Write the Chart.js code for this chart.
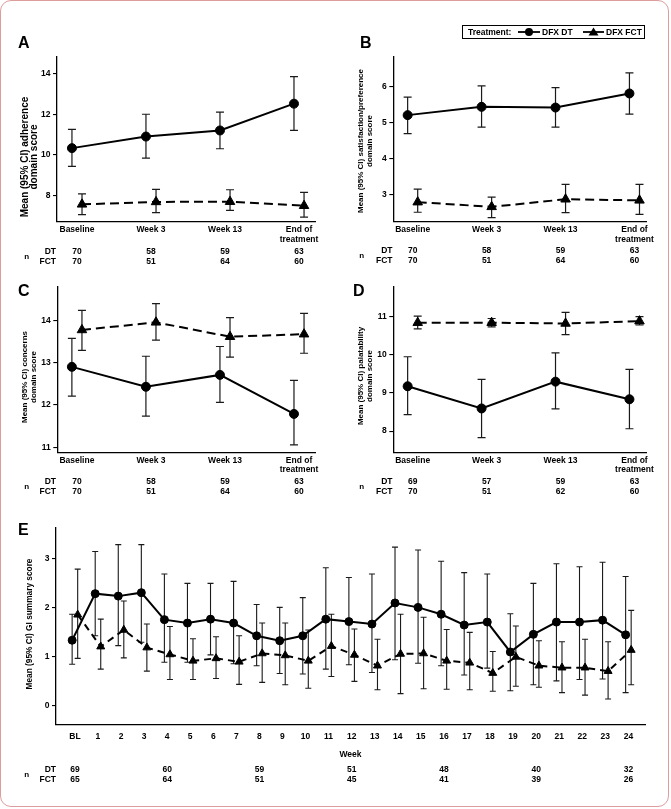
<!DOCTYPE html>
<html lang="en">
<head>
<meta charset="UTF-8">
<title>DFX DT vs DFX FCT - patient-reported outcomes</title>
<script src="https://cdn.jsdelivr.net/npm/chart.js"></script>
<style>
  body { margin: 0; background: #fff; }
  #frame { position: absolute; left: 0; top: 0; width: 667px; height: 805px;
           border: 1.5px solid #de9d9d; border-radius: 11px; }
  canvas { position: absolute; }
</style>
</head>
<body>
<div id="frame"></div>
<canvas id="pA"></canvas>
<canvas id="pB"></canvas>
<canvas id="pC"></canvas>
<canvas id="pD"></canvas>
<canvas id="pE"></canvas>

<script>
// ---- data ----
const visitLabels = ['Baseline', 'Week 3', 'Week 13', ['End of', 'treatment']];
const weekLabels = ['BL', '1', '2', '3', '4', '5', '6', '7', '8', '9', '10', '11', '12',
  '13', '14', '15', '16', '17', '18', '19', '20', '21', '22', '23', '24'];

// A - adherence
const adhDT = [10.33, 10.90, 11.20, 12.52];
const adhDTLow = [9.43, 9.84, 10.30, 11.20];
const adhDTHigh = [11.25, 12.00, 12.10, 13.85];
const adhFCT = [7.56, 7.68, 7.69, 7.49];
const adhFCTLow = [7.05, 7.15, 7.26, 6.93];
const adhFCTHigh = [8.08, 8.30, 8.28, 8.15];
const nA_DT = [70, 58, 59, 63];
const nA_FCT = [70, 51, 64, 60];

// B - satisfaction/preference
const satDT = [5.20, 5.43, 5.41, 5.80];
const satDTLow = [4.69, 4.87, 4.87, 5.23];
const satDTHigh = [5.70, 6.01, 5.96, 6.37];
const satFCT = [2.79, 2.66, 2.87, 2.84];
const satFCTLow = [2.51, 2.36, 2.50, 2.45];
const satFCTHigh = [3.15, 2.93, 3.28, 3.28];
const nB_DT = [70, 58, 59, 63];
const nB_FCT = [70, 51, 64, 60];

// C - concerns
const conDT = [12.90, 12.43, 12.71, 11.79];
const conDTLow = [12.21, 11.74, 12.06, 11.06];
const conDTHigh = [13.57, 13.15, 13.38, 12.58];
const conFCT = [13.77, 13.95, 13.61, 13.67];
const conFCTLow = [13.29, 13.53, 13.13, 13.22];
const conFCTHigh = [14.23, 14.39, 14.06, 14.16];
const nC_DT = [70, 58, 59, 63];
const nC_FCT = [70, 51, 64, 60];

// D - palatability
const palDT = [9.17, 8.59, 9.29, 8.83];
const palDTLow = [8.43, 7.83, 8.58, 8.06];
const palDTHigh = [9.94, 9.35, 10.04, 9.61];
const palFCT = [10.83, 10.83, 10.81, 10.87];
const palFCTLow = [10.67, 10.72, 10.52, 10.77];
const palFCTHigh = [11.00, 10.94, 11.10, 10.99];
const nD_DT = [69, 57, 59, 63];
const nD_FCT = [70, 51, 62, 60];

// E - GI summary score by week
const giDT = [1.34, 2.29, 2.24, 2.31, 1.76, 1.69, 1.77, 1.69, 1.43, 1.33, 1.43, 1.77, 1.72,
  1.67, 2.10, 2.01, 1.87, 1.65, 1.71, 1.10, 1.46, 1.71, 1.71, 1.75, 1.45];
const giDTLow = [0.85, 1.43, 1.23, 1.30, 0.89, 0.89, 1.04, 0.86, 0.82, 0.66, 0.65, 0.75, 0.84,
  0.68, 0.94, 0.87, 0.82, 0.63, 0.77, 0.31, 0.43, 0.51, 0.54, 0.55, 0.27];
const giDTHigh = [1.87, 3.15, 3.29, 3.29, 2.69, 2.50, 2.50, 2.54, 2.07, 2.01, 2.21, 2.82, 2.62,
  2.69, 3.24, 3.18, 2.95, 2.72, 2.69, 1.88, 2.50, 2.90, 2.84, 2.93, 2.64];
const giFCT = [1.86, 1.21, 1.55, 1.19, 1.05, 0.92, 0.97, 0.90, 1.07, 1.03, 0.92, 1.22, 1.04,
  0.82, 1.06, 1.07, 0.92, 0.88, 0.67, 1.00, 0.82, 0.78, 0.78, 0.71, 1.14];
const giFCTLow = [0.97, 0.75, 0.98, 0.71, 0.54, 0.54, 0.56, 0.44, 0.48, 0.43, 0.36, 0.60, 0.50,
  0.33, 0.25, 0.35, 0.34, 0.33, 0.30, 0.40, 0.38, 0.27, 0.22, 0.14, 0.43];
const giFCTHigh = [2.79, 1.77, 2.14, 1.67, 1.62, 1.37, 1.41, 1.43, 1.69, 1.69, 1.55, 1.87, 1.57,
  1.36, 1.87, 1.81, 1.56, 1.50, 1.11, 1.63, 1.33, 1.31, 1.36, 1.31, 1.95];
const nE_weeks = [0, 4, 8, 12, 16, 20, 24];
const nE_DT = [69, 60, 59, 51, 48, 40, 32];
const nE_FCT = [65, 64, 51, 45, 41, 39, 26];

const FONT = "'Liberation Sans', Arial, Helvetica, sans-serif";
Chart.defaults.font.family = FONT;
Chart.defaults.color = '#000';

// vertical 95% CI bars, drawn under the lines
const errorBars = {
  id: 'errorBars',
  beforeDatasetsDraw(chart) {
    const ctx = chart.ctx, ys = chart.scales.y;
    chart.data.datasets.forEach((ds, i) => {
      const meta = chart.getDatasetMeta(i);
      ctx.save();
      ctx.strokeStyle = '#1a1a1a';
      ctx.lineWidth = ds.barWidth;
      meta.data.forEach((pt, j) => {
        const top = ys.getPixelForValue(ds.hi[j]);
        const bot = ys.getPixelForValue(ds.lo[j]);
        ctx.beginPath();
        ctx.moveTo(pt.x, top); ctx.lineTo(pt.x, bot);
        ctx.moveTo(pt.x - ds.cap, top); ctx.lineTo(pt.x + ds.cap, top);
        ctx.moveTo(pt.x - ds.cap, bot); ctx.lineTo(pt.x + ds.cap, bot);
        ctx.stroke();
      });
      ctx.restore();
    });
  }
};

const panels = {};

// letters, y titles, n tables, legend
const decor = {
  id: 'decor',
  afterDraw(chart) {
    const d = panels[chart.canvas.id];
    const ctx = chart.ctx;
    ctx.save();
    ctx.translate(-d.box.left, -d.box.top);
    ctx.fillStyle = '#000';
    ctx.textBaseline = 'middle';

    ctx.font = 'bold 16px ' + FONT;
    ctx.textAlign = 'left';
    ctx.fillText(d.letter, d.letterX, d.letterY);

    ctx.font = 'bold ' + d.titleSize + 'px ' + FONT;
    ctx.textAlign = 'center';
    d.title.forEach((line, k) => {
      ctx.save();
      ctx.translate(d.titleX + k * d.titleDx, d.titleY);
      ctx.rotate(-Math.PI / 2);
      ctx.fillText(line, 0, 0);
      ctx.restore();
    });

    const xs = chart.scales.x;
    ctx.font = 'bold 8.5px ' + FONT;
    ctx.textAlign = 'right';
    ctx.fillText('DT', d.labR, d.rowY[0]);
    ctx.fillText('FCT', d.labR, d.rowY[1]);
    ctx.textAlign = 'center';
    ctx.font = 'bold 8px ' + FONT;
    ctx.fillText('n', d.nX, (d.rowY[0] + d.rowY[1]) / 2);
    ctx.font = 'bold 8.5px ' + FONT;
    d.nAt.forEach((c, k) => {
      const px = xs.getPixelForValue(c) + d.box.left;
      ctx.fillText(String(d.nDT[k]), px, d.rowY[0]);
      ctx.fillText(String(d.nFCT[k]), px, d.rowY[1]);
    });

    if (d.legend) {
      ctx.strokeStyle = '#000';
      ctx.lineWidth = 1;
      ctx.strokeRect(462.5, 25.5, 182, 13);
      ctx.textAlign = 'left';
      ctx.fillText('Treatment:', 468, 32.2);
      ctx.lineWidth = 1.8;
      ctx.beginPath(); ctx.moveTo(518, 32); ctx.lineTo(540, 32); ctx.stroke();
      ctx.beginPath(); ctx.arc(529, 32, 4, 0, Math.PI * 2); ctx.fill();
      ctx.fillText('DFX DT', 542, 32.2);
      ctx.beginPath(); ctx.moveTo(583, 32); ctx.lineTo(604, 32); ctx.stroke();
      ctx.beginPath();
      ctx.moveTo(593.5, 27.5); ctx.lineTo(598.5, 35.5); ctx.lineTo(588.5, 35.5);
      ctx.closePath(); ctx.fill();
      ctx.fillText('DFX FCT', 606, 32.2);
    }
    ctx.restore();
  }
};

function makePanel(p) {
  panels[p.id] = p;
  const b = p.box, a = p.area;
  const canvas = document.getElementById(p.id);
  canvas.width = b.width;
  canvas.height = b.height;
  canvas.style.left = b.left + 'px';
  canvas.style.top = b.top + 'px';

  const series = (vals, lo, hi, dx, fct) => ({
    data: vals.map((v, i) => ({ x: i + dx, y: v })),
    lo: lo, hi: hi,
    cap: p.cap, barWidth: p.barWidth,
    borderColor: '#000',
    borderWidth: 2,
    borderDash: fct ? p.dash : [],
    pointStyle: fct ? 'triangle' : 'circle',
    pointRadius: fct ? p.triR : p.dotR,
    pointBackgroundColor: '#000',
    pointBorderColor: '#000',
    pointBorderWidth: 1,
    tension: 0,
    fill: false
  });

  new Chart(canvas, {
    type: 'line',
    data: {
      datasets: [
        series(p.dt, p.dtLo, p.dtHi, -p.off, false),
        series(p.fct, p.fctLo, p.fctHi, p.off, true)
      ]
    },
    options: {
      responsive: false,
      animation: false,
      devicePixelRatio: 1,
      layout: { padding: { top: a.T - b.top, right: b.left + b.width - a.R, left: 0, bottom: 0 } },
      plugins: { legend: { display: false }, tooltip: { enabled: false } },
      scales: {
        x: {
          type: 'linear',
          min: p.xMin, max: p.xMax,
          afterBuildTicks: s => { s.ticks = p.labels.map((l, i) => ({ value: i })); },
          afterFit: s => { s.height = b.top + b.height - a.B; },
          ticks: {
            autoSkip: false, maxRotation: 0, padding: p.xPad,
            callback: v => p.labels[v],
            font: { size: 8.5, weight: 'bold', lineHeight: 1.1 }
          },
          grid: { display: false, drawTicks: false },
          border: { display: true, color: '#000', width: 1.3 },
          title: p.xTitle ? {
            display: true, text: p.xTitle,
            font: { size: 8.5, weight: 'bold', lineHeight: 1.2 },
            padding: { top: 0, bottom: p.xTitlePad }
          } : { display: false }
        },
        y: {
          min: p.yMin, max: p.yMax,
          afterBuildTicks: s => { s.ticks = p.yTicks.map(v => ({ value: v })); },
          afterFit: s => { s.width = a.L - b.left; },
          ticks: { padding: 2.5, font: { size: 8.5, weight: 'bold' } },
          grid: { drawOnChartArea: false, drawTicks: true, tickLength: 4, color: '#000', lineWidth: 1.1 },
          border: { display: true, color: '#000', width: 1.3 }
        }
      }
    },
    plugins: [errorBars, decor]
  });
}

const visitIdx = [0, 1, 2, 3];
const small = { off: 0.068, cap: 4, barWidth: 1.2, dash: [9, 5], dotR: 4.5, triR: 5.5, labels: visitLabels, xPad: 3.3 };

makePanel(Object.assign({}, small, {
  id: 'pA', box: { left: 0, top: 0, width: 335, height: 270 },
  area: { L: 57, T: 57, R: 315, B: 222 },
  xMin: -0.27, xMax: 3.216, yMin: 6.69, yMax: 14.82, yTicks: [8, 10, 12, 14],
  dt: adhDT, dtLo: adhDTLow, dtHi: adhDTHigh, fct: adhFCT, fctLo: adhFCTLow, fctHi: adhFCTHigh,
  letter: 'A', letterX: 18, letterY: 44,
  title: ['Mean (95% CI) adherence', 'domain score'], titleX: 25, titleDx: 9, titleY: 157, titleSize: 10,
  rowY: [251.5, 261.3], nX: 26.7, labR: 56, nAt: visitIdx, nDT: nA_DT, nFCT: nA_FCT
}));

makePanel(Object.assign({}, small, {
  id: 'pB', box: { left: 335, top: 0, width: 336, height: 270 },
  area: { L: 393.3, T: 57, R: 646, B: 222 },
  xMin: -0.262, xMax: 3.156, yMin: 2.24, yMax: 6.81, yTicks: [3, 4, 5, 6],
  dt: satDT, dtLo: satDTLow, dtHi: satDTHigh, fct: satFCT, fctLo: satFCTLow, fctHi: satFCTHigh,
  letter: 'B', letterX: 360, letterY: 44,
  title: ['Mean (95% CI) satisfaction/preference', 'domain score'], titleX: 361, titleDx: 8.5, titleY: 141, titleSize: 8,
  rowY: [251, 261], nX: 361.7, labR: 392.5, nAt: visitIdx, nDT: nB_DT, nFCT: nB_FCT,
  legend: true
}));

makePanel(Object.assign({}, small, {
  id: 'pC', box: { left: 0, top: 270, width: 335, height: 230 },
  area: { L: 57.3, T: 286.7, R: 315, B: 452.5 },
  xMin: -0.265, xMax: 3.216, yMin: 10.88, yMax: 14.79, yTicks: [11, 12, 13, 14],
  dt: conDT, dtLo: conDTLow, dtHi: conDTHigh, fct: conFCT, fctLo: conFCTLow, fctHi: conFCTHigh,
  letter: 'C', letterX: 18, letterY: 292,
  title: ['Mean (95% CI) concerns', 'domain score'], titleX: 25, titleDx: 8.5, titleY: 377, titleSize: 8,
  rowY: [481.7, 491.7], nX: 26.7, labR: 56, nAt: visitIdx, nDT: nC_DT, nFCT: nC_FCT
}));

makePanel(Object.assign({}, small, {
  id: 'pD', box: { left: 335, top: 270, width: 336, height: 230 },
  area: { L: 393.3, T: 286.7, R: 646, B: 452.5 },
  xMin: -0.262, xMax: 3.156, yMin: 7.44, yMax: 11.77, yTicks: [8, 9, 10, 11],
  dt: palDT, dtLo: palDTLow, dtHi: palDTHigh, fct: palFCT, fctLo: palFCTLow, fctHi: palFCTHigh,
  letter: 'D', letterX: 353, letterY: 292,
  title: ['Mean (95% CI) palatability', 'domain score'], titleX: 361, titleDx: 8.5, titleY: 376, titleSize: 8,
  rowY: [481.7, 491.7], nX: 361.7, labR: 392.5, nAt: visitIdx, nDT: nD_DT, nFCT: nD_FCT
}));

makePanel({
  id: 'pE', box: { left: 0, top: 512, width: 671, height: 288 },
  area: { L: 56, T: 528, R: 645, B: 725 },
  off: 0.12, cap: 3, barWidth: 1.1, dash: [7, 5], dotR: 4, triR: 4.6,
  labels: weekLabels, xPad: 7,
  xMin: -0.82, xMax: 24.72, yMin: -0.39, yMax: 3.63, yTicks: [0, 1, 2, 3],
  xTitle: 'Week', xTitlePad: 39.9,
  dt: giDT, dtLo: giDTLow, dtHi: giDTHigh, fct: giFCT, fctLo: giFCTLow, fctHi: giFCTHigh,
  letter: 'E', letterX: 18, letterY: 531,
  title: ['Mean (95% CI) GI summary score'], titleX: 30, titleDx: 0, titleY: 624, titleSize: 8.3,
  rowY: [769.3, 779.3], nX: 26.7, labR: 56, nAt: nE_weeks, nDT: nE_DT, nFCT: nE_FCT
});
</script>
</body>
</html>
